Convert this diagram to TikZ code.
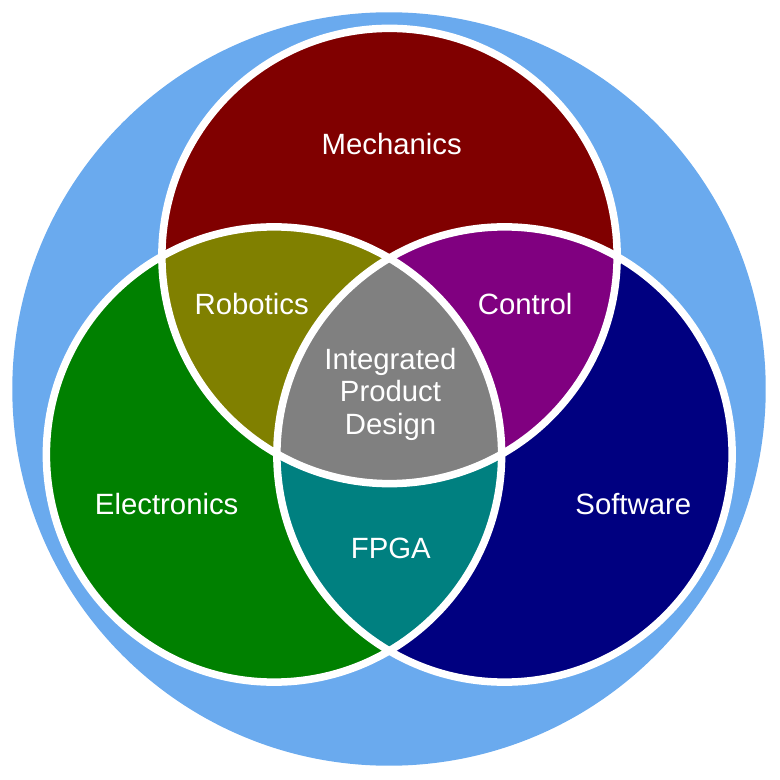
\documentclass[tikz,border=0pt]{standalone}
\usepackage{fontspec}
\setmainfont{Liberation Sans}
\definecolor{outerblue}{RGB}{106,170,238}
\definecolor{cmaroon}{RGB}{128,0,0}
\definecolor{cgreen}{RGB}{0,128,0}
\definecolor{cnavy}{RGB}{0,0,128}
\definecolor{colive}{RGB}{128,128,0}
\definecolor{cpurple}{RGB}{128,0,128}
\definecolor{cteal}{RGB}{0,128,128}
\definecolor{cgray}{RGB}{128,128,128}
\tikzset{
  lbl/.style={text=white, inner sep=0pt, anchor=base, font=\fontsize{8.34pt}{9.2pt}\selectfont},
  ring/.style={draw=white, line width=0.075cm},
}
\begin{document}
\begin{tikzpicture}[x=0.01cm,y=-0.01cm]
\useasboundingbox (0,0) rectangle (780,780);
\coordinate (O) at (389,389);
\coordinate (M) at (389.5,256);
\coordinate (E) at (274,454.5);
\coordinate (S) at (504.5,454.5);
\def\R{2.275cm}
% outer disc
\fill[outerblue] (O) circle[radius=3.765cm];
% base circles
\fill[cmaroon] (M) circle[radius=\R];
\fill[cgreen] (E) circle[radius=\R];
\fill[cnavy] (S) circle[radius=\R];
% pairwise overlaps
\begin{scope}
  \clip (M) circle[radius=\R];
  \fill[colive] (E) circle[radius=\R];
  \fill[cpurple] (S) circle[radius=\R];
\end{scope}
\begin{scope}
  \clip (E) circle[radius=\R];
  \fill[cteal] (S) circle[radius=\R];
\end{scope}
% triple overlap
\begin{scope}
  \clip (M) circle[radius=\R];
  \clip (E) circle[radius=\R];
  \fill[cgray] (S) circle[radius=\R];
\end{scope}
% white outlines
\draw[ring] (M) circle[radius=\R];
\draw[ring] (E) circle[radius=\R];
\draw[ring] (S) circle[radius=\R];
% labels
\node[lbl] (mech) at (391.7,154.3) {Mechanics};
\node[lbl] (rob) at (251.7,315) {Robotics};
\node[lbl] (ctl) at (525.2,314.5) {Control};
\node[lbl] (ipd1) at (390.5,369.3) {Integrated};
\node[lbl] (ipd2) at (390.5,401.7) {Product};
\node[lbl] (ipd3) at (390.5,434) {Design};
\node[lbl] (elec) at (166.7,514.2) {Electronics};
\node[lbl] (soft) at (633.3,514.3) {Software};
\node[lbl] (fpga) at (390.8,558.3) {FPGA};
\end{tikzpicture}
\end{document}
